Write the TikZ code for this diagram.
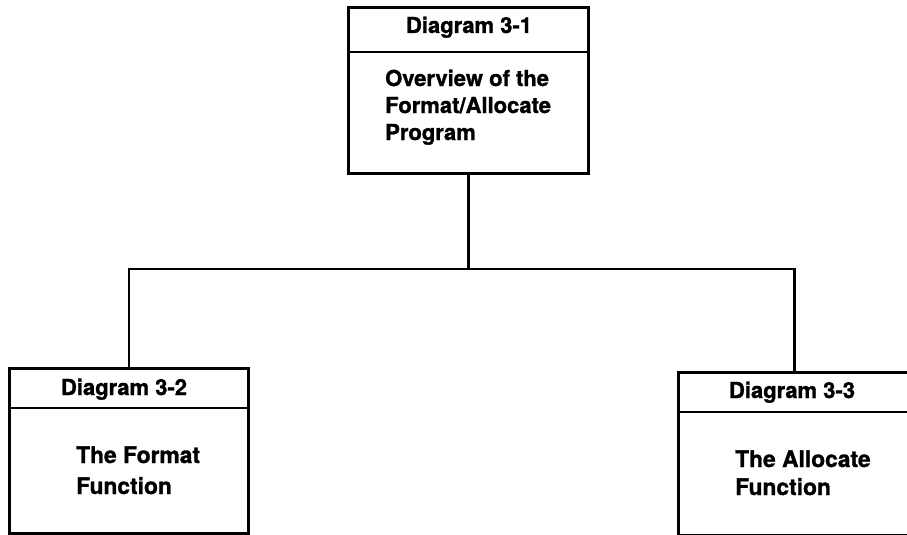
\documentclass[tikz,border=0pt]{standalone}
\usepackage{fontspec}
\setmainfont{TeX Gyre Heros}[BoldFeatures={FakeBold=1.2}]
\begin{document}
\begin{tikzpicture}[x=1pt,y=-1pt,
  frame/.style={draw, line width=2.8pt, rectangle, inner sep=0pt, anchor=north west},
  rule/.style={line width=2.8pt},
  wire/.style={line width=2.8pt, line join=miter},
  lbl/.style={font=\bfseries\fontsize{22}{22}\selectfont, inner sep=0pt, anchor=base west},
  big/.style={lbl, font=\bfseries\fontsize{22.8}{22.8}\selectfont},
  hdr/.style={lbl, anchor=base}]
\useasboundingbox (0,0) rectangle (907,535);

% boxes
\node[frame, minimum width=240pt, minimum height=166pt] (main) at (347,6) {};
\node[frame, minimum width=239pt, minimum height=165pt] (fmt) at (8,367) {};
\node[frame, minimum width=232pt, minimum height=163pt] (alc) at (677,371) {};

% header dividers
\draw[rule] ([yshift=-46pt]main.north west) -- ([yshift=-46pt]main.north east);
\draw[rule] ([yshift=-41pt]fmt.north west) -- ([yshift=-41pt]fmt.north east);
\draw[rule] ([yshift=-41pt]alc.north west) -- ([yshift=-41pt]alc.north east);

% headers
\node[hdr] (mainh) at (469,33) {Diagram 3-1};
\node[hdr] (fmth) at (124,395) {Diagram 3-2};
\node[hdr] (alch) at (792,398) {Diagram 3-3};

% titles
\node[lbl] (maint1) at (385,86) {Overview of the};
\node[lbl] (maint2) at (385,113) {Format/Allocate};
\node[lbl] (maint3) at (385,140) {Program};
\node[big] (fmtt1) at (76,463) {The Format};
\node[big] (fmtt2) at (76,494) {Function};
\node[big] (alct1) at (735,467) {The Allocate};
\node[big] (alct2) at (735,495) {Function};

% tree connectors
\coordinate (hub) at (main.south |- 0,269);
\draw[wire] (main.south) -- (hub);
\draw[wire] (fmt.north) |- (hub) -| (alc.north);
\end{tikzpicture}
\end{document}
